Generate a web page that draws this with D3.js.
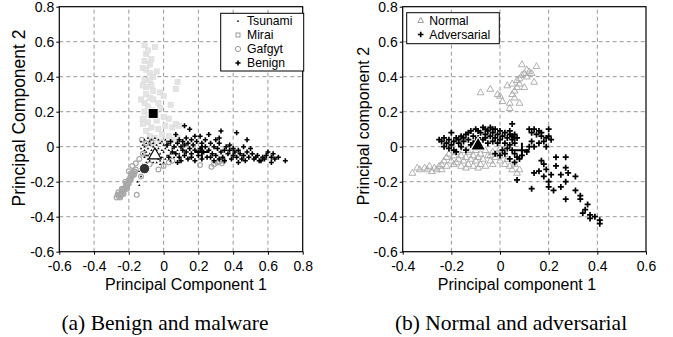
<!DOCTYPE html>
<html>
<head>
<meta charset="utf-8">
<script src="https://cdn.jsdelivr.net/npm/d3@7"></script>
<style>
  body { margin: 0; background: #fff; }
  svg { display: block; }
  .tick text { font-family: "Liberation Sans", Arial, sans-serif; font-size: 14px; fill: #000; }
</style>
</head>
<body>
<svg id="chart" width="673" height="337"></svg>
<script>
// ---- data: (a) benign and malware ----
const ticksA_x = [-0.6, -0.4, -0.2, 0, 0.2, 0.4, 0.6, 0.8]
const ticksY = [-0.6, -0.4, -0.2, 0, 0.2, 0.4, 0.6, 0.8]

const mirai = [[-0.11,0.58],[-0.05,0.57],[-0.10,0.53],[-0.11,0.49],[-0.07,0.50],[-0.12,0.45],[-0.10,0.44],[-0.08,0.42],[-0.04,0.43],[-0.06,0.40],[-0.11,0.38],[-0.08,0.38],[-0.07,0.35],[-0.10,0.34],[-0.12,0.35],[-0.06,0.32],[-0.02,0.31],[0.00,0.29],[0.08,0.37],[0.07,0.33],[-0.10,0.30],[-0.08,0.28],[-0.06,0.27],[-0.11,0.25],[-0.03,0.25],[-0.09,0.23],[-0.07,0.21],[-0.11,0.20],[-0.02,0.22],[0.04,0.24],[-0.12,0.16],[-0.09,0.14],[-0.04,0.15],[0.00,0.17],[-0.07,0.11],[-0.10,0.09],[-0.03,0.10],[0.01,0.12],[0.05,0.11],[0.07,0.13],[-0.08,0.06],[-0.05,0.05],[-0.01,0.07],[0.03,0.06],[-0.06,0.02],[-0.02,0.03],[0.02,0.02],[0.06,0.04],[-0.12,0.13],[-0.09,0.18],[-0.05,0.19],[0.03,0.16],[-0.13,0.27],[-0.08,0.47],[-0.09,0.55],[0.09,0.12],[0.08,0.05]]

const gafgyt = [[-0.27,-0.29],[-0.26,-0.28],[-0.25,-0.27],[-0.25,-0.29],[-0.24,-0.26],[-0.23,-0.25],[-0.24,-0.24],[-0.22,-0.23],[-0.21,-0.22],[-0.22,-0.20],[-0.20,-0.19],[-0.19,-0.17],[-0.18,-0.16],[-0.18,-0.15],[-0.17,-0.14],[-0.16,-0.13],[-0.26,-0.26],[-0.23,-0.27],[-0.21,-0.24],[-0.20,-0.21],[-0.19,-0.19],[-0.17,-0.16],[-0.265,-0.275],[-0.255,-0.285],[-0.245,-0.275],[-0.235,-0.265],[-0.235,-0.245],[-0.225,-0.245],[-0.215,-0.235],[-0.215,-0.215],[-0.205,-0.205],[-0.195,-0.185],[-0.185,-0.175],[-0.175,-0.155],[-0.165,-0.145],[-0.185,-0.155],[-0.20,-0.14],[-0.18,-0.11],[-0.16,-0.095],[-0.14,-0.07],[-0.155,-0.275],[-0.13,-0.17],[-0.12,-0.04],[-0.125,0.04],[-0.10,0.02],[-0.08,-0.10],[-0.03,-0.13],[0.00,-0.11],[0.03,-0.09],[0.21,-0.105],[0.275,-0.115],[0.29,-0.10],[0.31,-0.09],[0.32,-0.085],[0.335,-0.095],[0.345,-0.08],[0.05,-0.08],[-0.07,0.03]]

const tsunami = [[-0.13,0.03],[-0.11,0.04],[-0.09,0.05],[-0.07,0.04],[-0.05,0.05],[-0.03,0.04],[-0.01,0.03],[0.01,0.04],[0.03,0.02],[-0.12,0.01],[-0.10,0.02],[-0.08,0.01],[-0.06,0.02],[-0.04,0.01],[-0.02,0.02],[0.00,0.01],[0.02,0.00],[0.04,0.01],[-0.13,-0.01],[-0.11,-0.02],[-0.09,-0.01],[-0.07,-0.02],[-0.03,-0.01],[-0.01,-0.02],[0.01,-0.01],[0.03,-0.02],[0.05,-0.01],[-0.12,-0.04],[-0.10,-0.03],[-0.08,-0.04],[-0.02,-0.04],[0.00,-0.03],[0.02,-0.05],[0.04,-0.04],[0.06,-0.03],[-0.11,-0.06],[-0.09,-0.07],[-0.07,-0.06],[-0.03,-0.07],[-0.01,-0.06],[0.01,-0.07],[0.03,-0.06],[-0.10,-0.09],[-0.08,-0.08],[-0.06,-0.09],[-0.04,-0.09],[-0.02,-0.08],[0.00,-0.09],[-0.12,-0.10],[-0.14,-0.14],[-0.13,-0.17],[-0.15,-0.20],[-0.14,-0.22],[-0.12,-0.13],[-0.06,0.00],[-0.04,-0.02],[-0.11,0.00],[0.05,0.03],[0.07,0.00],[0.08,-0.02],[-0.05,-0.05],[-0.06,-0.04],[-0.09,-0.05],[0.02,0.03],[-0.08,0.03],[-0.10,-0.05],[0.06,-0.06],[0.04,-0.08],[-0.02,-0.10],[0.09,-0.04]]

const benign = [[0.12,0.12],[0.15,0.10],[0.07,0.07],[0.18,0.06],[0.21,0.06],[0.26,0.07],[0.33,0.09],[0.42,0.08],[0.48,0.04],[0.32,0.05],[0.30,0.04],[0.24,0.04],[0.04,0.03],[0.06,0.00],[0.08,0.02],[0.10,0.00],[0.11,-0.02],[0.12,0.01],[0.13,-0.03],[0.14,0.02],[0.15,-0.01],[0.16,-0.04],[0.17,0.01],[0.18,-0.02],[0.19,0.03],[0.20,-0.05],[0.21,-0.01],[0.22,0.02],[0.23,-0.03],[0.24,0.00],[0.25,-0.06],[0.26,-0.02],[0.27,0.02],[0.28,-0.04],[0.29,0.00],[0.30,-0.05],[0.31,-0.01],[0.32,0.02],[0.33,-0.03],[0.34,-0.06],[0.35,-0.02],[0.36,0.00],[0.37,-0.04],[0.38,-0.02],[0.40,-0.05],[0.41,-0.03],[0.42,-0.06],[0.43,-0.02],[0.44,-0.04],[0.45,-0.07],[0.46,-0.05],[0.48,-0.03],[0.49,-0.06],[0.50,-0.01],[0.51,-0.04],[0.52,-0.07],[0.54,-0.05],[0.55,-0.08],[0.57,-0.06],[0.58,-0.07],[0.59,-0.05],[0.60,-0.03],[0.62,-0.06],[0.63,-0.04],[0.64,-0.07],[0.62,-0.09],[0.66,-0.06],[0.70,-0.08],[0.07,-0.04],[0.09,-0.06],[0.10,-0.08],[0.12,-0.05],[0.14,-0.07],[0.16,-0.06],[0.03,-0.06],[0.05,-0.03],[0.08,-0.09],[0.18,-0.08],[0.20,-0.03],[0.22,-0.07],[0.27,-0.06],[0.29,-0.08],[0.32,-0.07],[0.13,0.05],[0.16,0.04],[0.09,0.04],[0.11,0.03],[0.02,0.01],[0.35,-0.08],[0.39,-0.07],[0.47,-0.08],[0.53,-0.06],[0.56,-0.08],[0.46,0.00],[0.43,-0.09],[0.38,0.01],[0.40,-0.01]]

// centroids of each class, panel (a)
const centTsunami = [-0.05, -0.045]
const centMirai = [-0.06, 0.19]
const centGafgyt = [-0.11, -0.125]
const centBenign = [0.22, -0.03]

// ---- data: (b) normal and adversarial ----
const ticksB_x = [-0.4, -0.2, 0, 0.2, 0.4, 0.6]

const normal = [[-0.08,0.31],[-0.04,0.33],[-0.01,0.30],[0.00,0.29],[0.01,0.26],[0.04,0.25],[0.04,0.22],[0.08,0.25],[0.03,0.35],[0.05,0.36],[0.06,0.32],[0.05,0.30],[0.07,0.38],[0.08,0.39],[0.09,0.41],[0.10,0.42],[0.11,0.44],[0.09,0.47],[0.12,0.43],[0.14,0.37],[0.15,0.46],[0.13,0.42],[0.10,0.34],[0.07,0.34],[0.06,0.28],[0.11,0.40],[0.08,0.36],[-0.36,-0.15],[-0.34,-0.12],[-0.33,-0.13],[-0.31,-0.12],[-0.30,-0.13],[-0.29,-0.11],[-0.28,-0.14],[-0.27,-0.12],[-0.26,-0.13],[-0.25,-0.11],[-0.24,-0.10],[-0.24,-0.13],[-0.23,-0.08],[-0.22,-0.06],[-0.22,-0.11],[-0.21,-0.04],[-0.20,-0.08],[-0.19,-0.05],[-0.19,-0.10],[-0.18,-0.03],[-0.17,-0.07],[-0.16,-0.11],[-0.16,-0.05],[-0.15,-0.02],[-0.15,-0.08],[-0.14,-0.06],[-0.13,-0.10],[-0.13,-0.03],[-0.12,-0.07],[-0.11,-0.05],[-0.11,-0.11],[-0.10,-0.02],[-0.10,-0.08],[-0.09,-0.06],[-0.08,-0.10],[-0.08,-0.04],[-0.07,-0.07],[-0.06,-0.02],[-0.06,-0.11],[-0.05,-0.05],[-0.04,-0.08],[-0.03,-0.03],[-0.03,-0.10],[-0.02,-0.06],[-0.01,-0.04],[0.00,-0.08],[0.00,-0.01],[0.01,-0.05],[0.02,-0.10],[0.03,-0.07],[0.04,-0.11],[0.05,-0.13],[0.06,-0.10],[0.07,-0.15],[0.08,-0.13],[-0.14,-0.12],[-0.18,-0.09],[-0.09,-0.12],[-0.04,-0.05],[-0.12,-0.02]]

const adversarial = [[-0.25,0.04],[-0.24,0.03],[-0.23,0.05],[-0.22,0.02],[-0.21,0.04],[-0.21,-0.01],[-0.20,0.08],[-0.20,0.01],[-0.19,0.03],[-0.18,-0.03],[-0.18,0.05],[-0.17,0.02],[-0.16,0.00],[-0.16,0.06],[-0.15,0.03],[-0.14,0.07],[-0.14,-0.02],[-0.13,0.04],[-0.12,0.09],[-0.12,0.01],[-0.11,0.06],[-0.10,0.03],[-0.10,0.10],[-0.09,0.05],[-0.08,0.08],[-0.08,0.00],[-0.07,0.11],[-0.07,0.04],[-0.06,0.07],[-0.06,0.10],[-0.05,0.02],[-0.05,0.09],[-0.04,0.06],[-0.04,0.11],[-0.03,0.03],[-0.03,0.08],[-0.02,0.10],[-0.02,0.05],[-0.01,0.07],[-0.01,0.02],[0.00,0.04],[0.00,0.09],[0.01,0.06],[0.02,0.02],[0.02,0.08],[0.03,0.05],[0.04,0.07],[0.04,0.01],[0.05,0.04],[0.05,0.13],[0.06,0.07],[0.06,0.02],[0.07,0.05],[0.03,-0.01],[0.01,-0.02],[-0.02,-0.04],[0.00,-0.05],[0.02,-0.04],[0.05,-0.02],[0.06,-0.04],[0.07,-0.06],[0.04,-0.07],[0.08,-0.07],[0.06,-0.09],[0.09,-0.05],[0.11,-0.03],[0.12,0.00],[-0.15,0.05],[-0.11,0.02],[-0.09,0.09],[-0.13,0.08],[-0.17,0.04],[-0.06,0.05],[-0.03,0.10],[0.04,0.09],[0.05,0.06],[0.06,0.05],[-0.23,0.00],[-0.19,-0.02],[0.12,0.10],[0.13,0.08],[0.14,0.10],[0.15,0.07],[0.16,0.09],[0.17,0.06],[0.17,0.08],[0.19,0.05],[0.20,0.10],[0.21,0.04],[0.20,0.06],[0.16,0.02],[0.14,0.00],[0.18,0.03],[0.19,0.00],[0.13,0.03],[0.07,-0.19],[0.13,-0.24],[0.14,-0.15],[0.17,-0.08],[0.18,-0.10],[0.19,-0.13],[0.20,-0.20],[0.20,-0.23],[0.22,-0.25],[0.23,-0.11],[0.23,-0.06],[0.25,-0.16],[0.25,-0.23],[0.27,-0.06],[0.27,-0.12],[0.28,-0.15],[0.27,-0.20],[0.27,-0.30],[0.31,-0.17],[0.31,-0.25],[0.33,-0.28],[0.33,-0.30],[0.35,-0.36],[0.36,-0.33],[0.37,-0.39],[0.39,-0.40],[0.41,-0.42],[0.41,-0.44],[0.34,-0.38],[0.37,-0.41],[0.21,-0.16],[0.16,-0.14],[0.18,-0.17]]

const centNormal = [-0.09, 0.01]
const centAdversarial = [0.09, -0.02]

const sans = '"Liberation Sans", Arial, sans-serif'
const svg = d3.select('#chart')

const fmt = d => d === 0 ? '0' : d.toFixed(1)

// small marker paths
const plusPath = s => `M${-s},0H${s}M0,${-s}V${s}`
const triPath = s => `M0,${-s}L${s * 0.95},${s * 0.65}L${-s * 0.95},${s * 0.65}Z`

function panel (opts) {
  const x = d3.scaleLinear().domain(opts.xDomain).range([opts.left, opts.right])
  const y = d3.scaleLinear().domain([-0.6, 0.8]).range([251.7, 6.7])
  const g = svg.append('g')

  // dashed grid
  g.append('g').selectAll('line.gx')
    .data(opts.xTicks.slice(1, -1))
    .join('line')
    .attr('x1', d => x(d)).attr('x2', d => x(d))
    .attr('y1', y(-0.6)).attr('y2', y(0.8))
  g.append('g').selectAll('line.gy')
    .data(ticksY.slice(1, -1))
    .join('line')
    .attr('x1', x.range()[0]).attr('x2', x.range()[1])
    .attr('y1', d => y(d)).attr('y2', d => y(d))
  g.selectAll('line')
    .attr('stroke', '#999')
    .attr('stroke-width', 1)
    .attr('stroke-dasharray', '4,3')

  const xAxis = d3.axisBottom(x).tickValues(opts.xTicks).tickSize(3).tickFormat(fmt)
  const yAxis = d3.axisLeft(y).tickValues(ticksY).tickSize(3).tickFormat(fmt)
  g.append('g').attr('transform', `translate(0,${y(-0.6)})`).call(xAxis)
    .call(a => a.select('.domain').remove())
    .selectAll('text').attr('dy', '0.95em')
  g.append('g').attr('transform', `translate(${x.range()[0]},0)`).call(yAxis)
    .call(a => a.select('.domain').remove())
    .selectAll('text').attr('x', -5)

  // frame
  g.append('rect')
    .attr('x', x.range()[0]).attr('y', y(0.8))
    .attr('width', x.range()[1] - x.range()[0])
    .attr('height', y(-0.6) - y(0.8))
    .attr('fill', 'none').attr('stroke', '#000').attr('stroke-width', 1.2)

  const plot = g.append('g')
  return { x, y, g, plot }
}

// ---------- panel (a) ----------
const A = panel({ xDomain: [-0.6, 0.8], xTicks: ticksA_x, left: 59.3, right: 302.7 })

A.plot.append('g').selectAll('rect')
  .data(mirai).join('rect')
  .attr('x', d => A.x(d[0]) - 2.6).attr('y', d => A.y(d[1]) - 2.6)
  .attr('width', 5.2).attr('height', 5.2)
  .attr('fill', '#e4e4e4').attr('stroke', '#dadada').attr('stroke-width', 0.6)

A.plot.append('g').selectAll('circle')
  .data(gafgyt).join('circle')
  .attr('cx', d => A.x(d[0])).attr('cy', d => A.y(d[1])).attr('r', 2.4)
  .attr('fill', 'none').attr('stroke', '#a8a8a8').attr('stroke-width', 1.2)

A.plot.append('g').selectAll('path')
  .data(tsunami).join('path')
  .attr('transform', d => `translate(${A.x(d[0])},${A.y(d[1])})`)
  .attr('d', triPath(1.3)).attr('fill', '#000')

A.plot.append('g').selectAll('path')
  .data(benign).join('path')
  .attr('transform', d => `translate(${A.x(d[0])},${A.y(d[1])})`)
  .attr('d', plusPath(2.5)).attr('stroke', '#000').attr('stroke-width', 1.6)

// centroids
A.plot.append('rect')
  .attr('x', A.x(centMirai[0]) - 5).attr('y', A.y(centMirai[1]) - 5)
  .attr('width', 10).attr('height', 10)
  .attr('fill', '#000').attr('stroke', '#fff').attr('stroke-width', 1)
A.plot.append('circle')
  .attr('cx', A.x(centGafgyt[0])).attr('cy', A.y(centGafgyt[1])).attr('r', 5.2)
  .attr('fill', '#333').attr('stroke', '#fff').attr('stroke-width', 1)
A.plot.append('path')
  .attr('transform', `translate(${A.x(centTsunami[0])},${A.y(centTsunami[1])})`)
  .attr('d', triPath(6.5)).attr('fill', '#fff').attr('stroke', '#000').attr('stroke-width', 1.2)
A.plot.append('path')
  .attr('transform', `translate(${A.x(centBenign[0])},${A.y(centBenign[1])})`)
  .attr('d', plusPath(7)).attr('stroke', '#000').attr('stroke-width', 2)

// legend (a)
const legA = svg.append('g')
legA.append('rect').attr('x', 220.7).attr('y', 13.3).attr('width', 83).attr('height', 57.7)
  .attr('fill', '#fff').attr('stroke', '#000').attr('stroke-width', 1)
const legAItems = ['Tsunami', 'Mirai', 'Gafgyt', 'Benign']
legAItems.forEach((name, i) => {
  const cy = 21 + i * 14
  const m = legA.append('g').attr('transform', `translate(238,${cy})`)
  if (i === 0) m.append('path').attr('d', triPath(1.3)).attr('fill', '#000')
  if (i === 1) m.append('rect').attr('x', -2).attr('y', -2).attr('width', 4).attr('height', 4).attr('fill', 'none').attr('stroke', '#999')
  if (i === 2) m.append('circle').attr('r', 2.6).attr('fill', 'none').attr('stroke', '#999')
  if (i === 3) m.append('path').attr('d', plusPath(2.6)).attr('stroke', '#000').attr('stroke-width', 1.6)
  legA.append('text').attr('x', 247).attr('y', cy).attr('dy', '0.35em')
    .attr('font-family', sans).attr('font-size', 12.2).text(name)
})

// ---------- panel (b) ----------
const B = panel({ xDomain: [-0.4, 0.6], xTicks: ticksB_x, left: 402.7, right: 646 })

B.plot.append('g').selectAll('path')
  .data(normal).join('path')
  .attr('transform', d => `translate(${B.x(d[0])},${B.y(d[1])})`)
  .attr('d', triPath(3.6)).attr('fill', 'none').attr('stroke', '#a8a8a8').attr('stroke-width', 0.9)

B.plot.append('g').selectAll('path')
  .data(adversarial).join('path')
  .attr('transform', d => `translate(${B.x(d[0])},${B.y(d[1])})`)
  .attr('d', plusPath(3)).attr('stroke', '#000').attr('stroke-width', 1.7)

B.plot.append('path')
  .attr('transform', `translate(${B.x(centNormal[0])},${B.y(centNormal[1])})`)
  .attr('d', triPath(8)).attr('fill', '#000').attr('stroke', '#fff').attr('stroke-width', 1.2)
B.plot.append('path')
  .attr('transform', `translate(${B.x(centAdversarial[0])},${B.y(centAdversarial[1])})`)
  .attr('d', plusPath(7.5)).attr('stroke', '#000').attr('stroke-width', 2)

// legend (b)
const legB = svg.append('g')
legB.append('rect').attr('x', 406.7).attr('y', 12.7).attr('width', 92.6).attr('height', 31)
  .attr('fill', '#fff').attr('stroke', '#000').attr('stroke-width', 1)
;['Normal', 'Adversarial'].forEach((name, i) => {
  const cy = 20.5 + i * 14
  const m = legB.append('g').attr('transform', `translate(420.7,${cy})`)
  if (i === 0) m.append('path').attr('d', triPath(3)).attr('fill', 'none').attr('stroke', '#999')
  else m.append('path').attr('d', plusPath(2.8)).attr('stroke', '#000').attr('stroke-width', 1.6)
  legB.append('text').attr('x', 429.3).attr('y', cy).attr('dy', '0.35em')
    .attr('font-family', sans).attr('font-size', 12.2).text(name)
})

// axis titles
const title = (x, y, txt, size, rot) => svg.append('text')
  .attr('transform', `translate(${x},${y})` + (rot ? ' rotate(-90)' : ''))
  .attr('text-anchor', 'middle').attr('dy', '0.35em')
  .attr('font-family', sans).attr('font-size', size).text(txt)
title(186, 284, 'Principal Component 1', 16)
title(19, 118, 'Principal Component 2', 17.5, true)
title(517, 284, 'Principal component 1', 16)
title(363, 126, 'Principal component 2', 16, true)

// sub-captions
const cap = (x, txt) => svg.append('text')
  .attr('x', x).attr('y', 322).attr('dy', '0.35em').attr('text-anchor', 'middle')
  .attr('font-family', '"Liberation Serif", "Times New Roman", serif').attr('font-size', 21.5)
  .text(txt)
cap(165, '(a) Benign and malware')
cap(511, '(b) Normal and adversarial')
</script>
</body>
</html>
